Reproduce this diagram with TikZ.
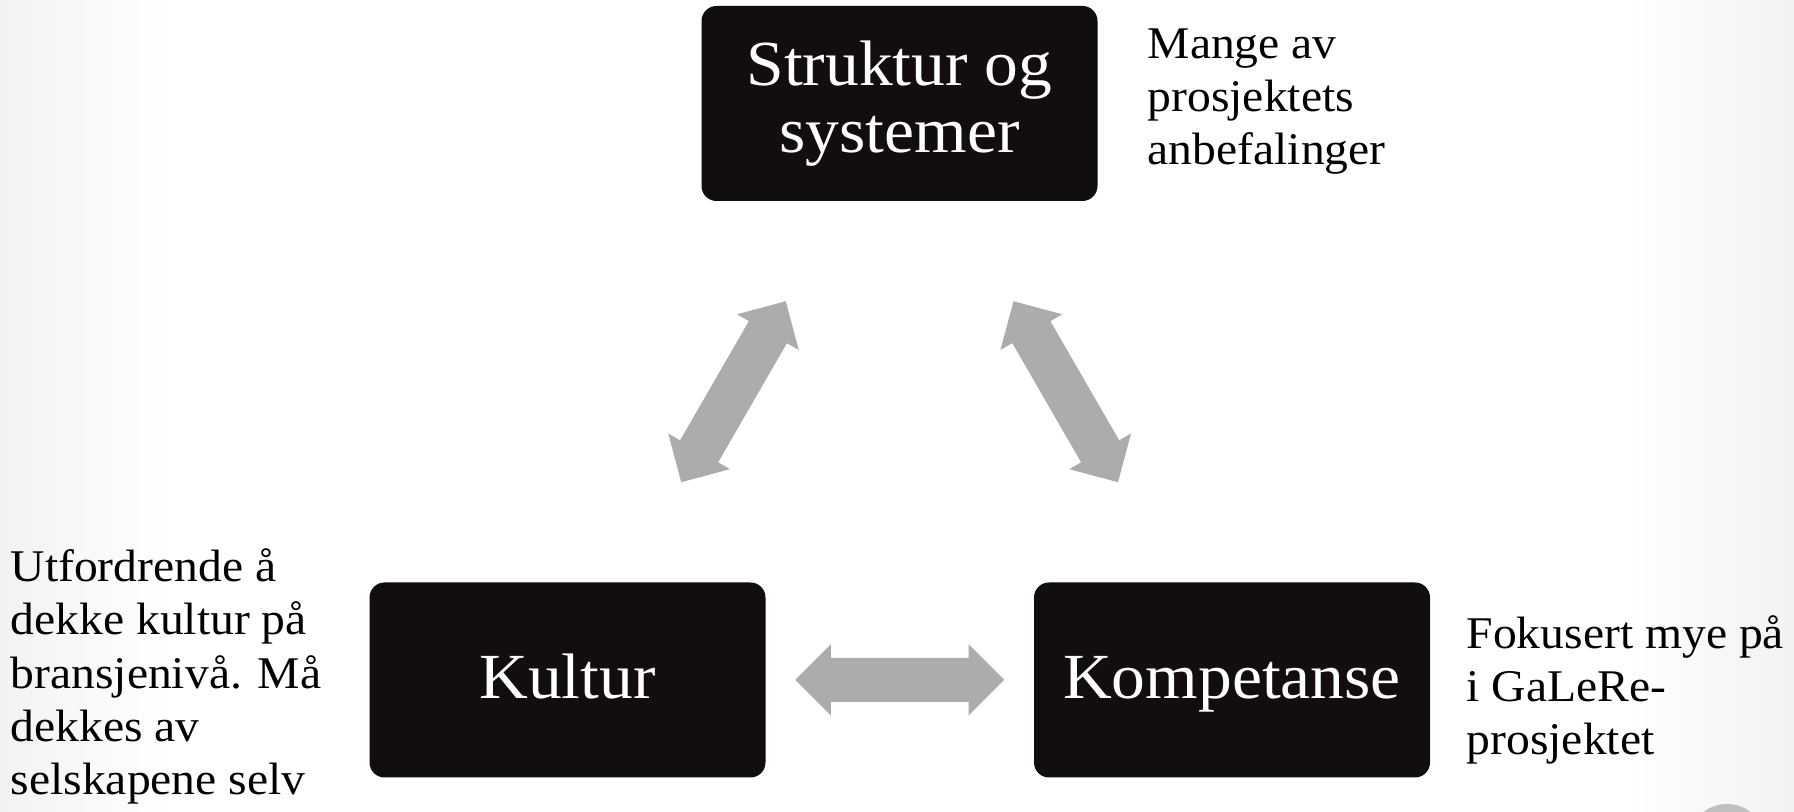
\documentclass[tikz,border=0pt]{standalone}
\usepackage{fontspec}
\setmainfont[FakeStretch=1.05]{Liberation Serif}
\usetikzlibrary{shapes.arrows,calc}
\definecolor{boxfill}{RGB}{18,13,14}
\definecolor{pilgray}{RGB}{172,172,172}
\definecolor{sidegray}{RGB}{242,242,242}
\definecolor{numgray}{RGB}{192,192,192}
\tikzset{
  corebox/.style={rectangle, rounded corners=0.15cm, fill=boxfill, text=white,
    minimum width=3.96cm, minimum height=1.95cm, inner sep=0pt, align=center,
    font=\fontsize{18.3pt}{19pt}\selectfont},
  onelinebox/.style={corebox, text height=0.50cm, text depth=0.12cm},
  pil/.style={double arrow, fill=pilgray, inner xsep=0pt, inner ysep=0.213cm,
    minimum height=2.09cm, double arrow head extend=0.137cm},
  sidenote/.style={anchor=base west, inner sep=0pt, align=left,
    font=\fontsize{12.9pt}{15.2pt}\selectfont}
}
\begin{document}
\begin{tikzpicture}
  \useasboundingbox (0, 0) rectangle (17.94, 8.12);
  % bakgrunn
  \shade [left color=sidegray, right color=white] (0, 0) rectangle (1.7, 8.12);
  \shade [left color=white, right color=sidegray] (16.24, 0) rectangle (17.94, 8.12);
  \fill [numgray] (17.27, -0.305) circle (0.385);

  % de tre boksene
  \node [corebox] (struktur) at (8.995, 7.085) {Struktur og\\systemer};
  \node [onelinebox] (kultur) at (5.675, 1.32) {Kultur};
  \node [onelinebox] (kompetanse) at (12.32, 1.32) {Kompetanse};

  % piler
  \node [pil, rotate=60] (pilvenstre) at ($(kultur)!0.5!(struktur)$) {};
  \node [pil, rotate=-60] (pilhoyre) at ($(struktur)!0.5!(kompetanse)$) {};
  \node [pil] (pilbunn) at ($(kultur)!0.5!(kompetanse)$) {};

  % kommentarer (base = siste linje)
  \node [sidenote] (anbefalinger) at (11.47, 6.47) {Mange av\\prosjektets\\anbefalinger};
  \node [sidenote] (utfordrende) at (0.10, 0.17) {Utfordrende å\\dekke kultur på\\bransjenivå. Må\\dekkes av\\selskapene selv};
  \node [sidenote] (fokusert) at (14.66, 0.57) {Fokusert mye på\\i GaLeRe-\\prosjektet};
\end{tikzpicture}
\end{document}
